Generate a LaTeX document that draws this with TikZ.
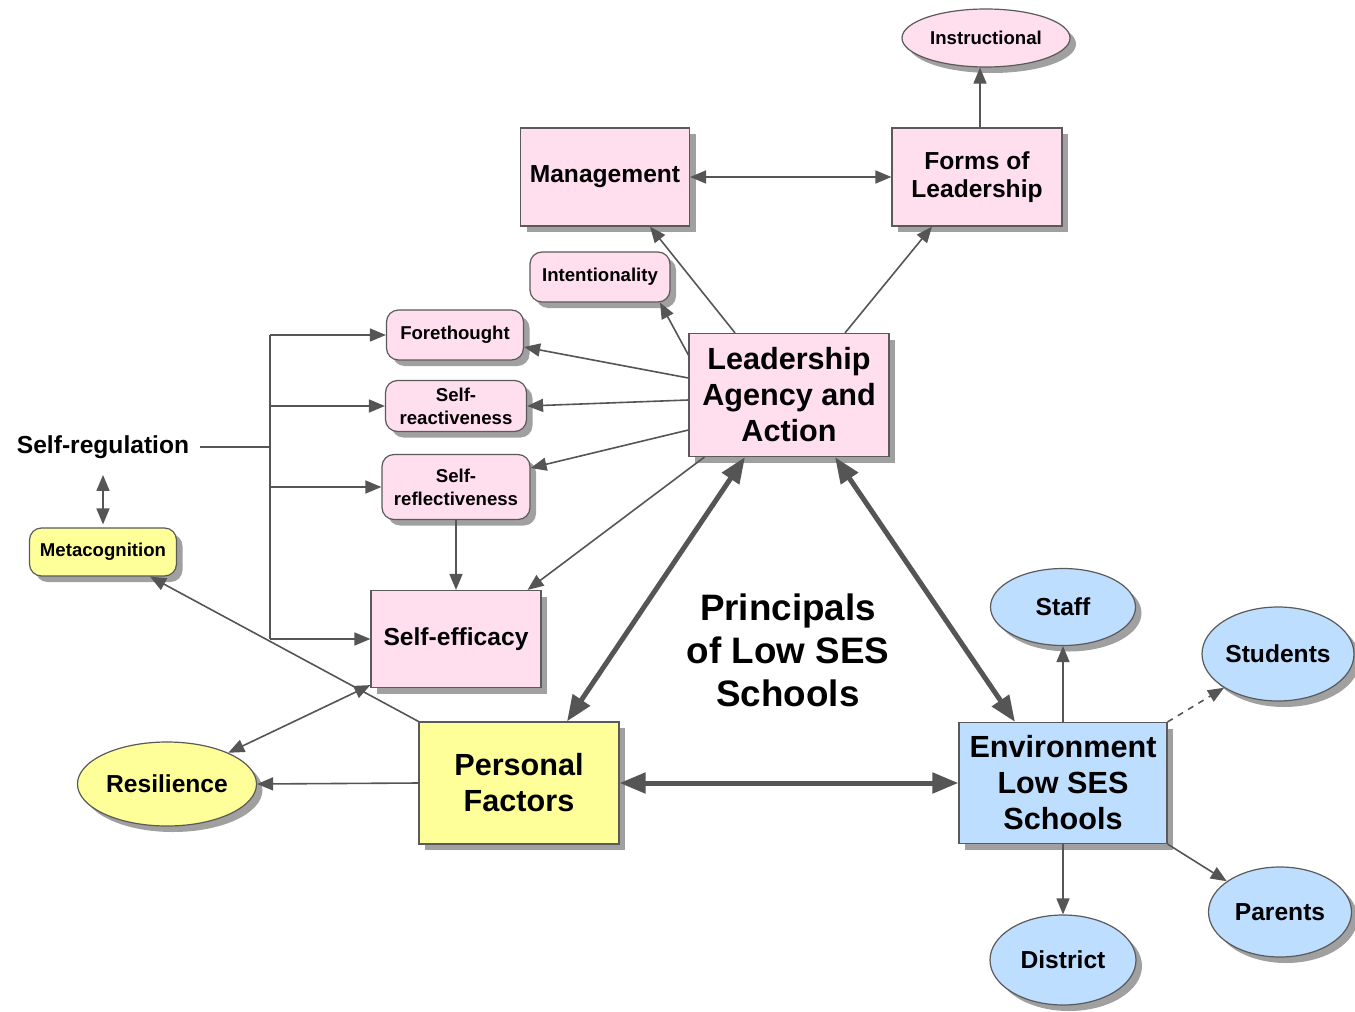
\documentclass[tikz,border=0pt]{standalone}
\usepackage{fontspec}
\setmainfont{Liberation Sans}
\usetikzlibrary{shapes.geometric,arrows.meta,shadows,calc}
\definecolor{pinkf}{RGB}{255,222,238}
\definecolor{yellowf}{RGB}{255,255,153}
\definecolor{bluef}{RGB}{190,222,255}
\definecolor{edgec}{RGB}{85,85,85}
\definecolor{bordc}{RGB}{90,90,90}
\definecolor{shadowc}{RGB}{160,160,160}
\tikzset{
  box/.style={draw=bordc, line width=0.6pt, align=center, inner sep=0pt,
    drop shadow={shadow xshift=3pt, shadow yshift=-3pt, fill=shadowc, opacity=1}},
  rbox/.style={box, rounded corners=6pt},
  oval/.style={box, ellipse},
  fs/.style={font=\bfseries\fontsize{9.3}{11.5}\selectfont},
  fm/.style={font=\bfseries\fontsize{12.3}{14}\selectfont},
  fl/.style={font=\bfseries\fontsize{15.3}{18}\selectfont},
  fx/.style={font=\bfseries\fontsize{18.4}{21.5}\selectfont},
  thin/.style={draw=edgec, line width=0.8pt, -{Triangle[length=8pt,width=6.5pt]}},
  thinboth/.style={draw=edgec, line width=0.8pt, {Triangle[length=8pt,width=6.5pt]}-{Triangle[length=8pt,width=6.5pt]}},
  thick/.style={draw=edgec, line width=2.5pt, {Triangle[length=13pt,width=10pt]}-{Triangle[length=13pt,width=10pt]}},
}
\begin{document}
\begin{tikzpicture}[x=0.5pt,y=-0.5pt]
\useasboundingbox[fill=white] (0,0) rectangle (1355,1012);
% nodes
\node[oval, fill=pinkf, fs, minimum width=84pt, minimum height=29pt] (instr) at (986,38) {Instructional};
\node[box, fill=pinkf, fm, minimum width=84.5pt, minimum height=49pt] (mgmt) at (605,177) {Management};
\node[box, fill=pinkf, fm, minimum width=85pt, minimum height=49pt] (forms) at (977,177) {Forms of\\Leadership};
\node[rbox, fill=pinkf, fs, minimum width=70pt, minimum height=25pt] (intent) at (600,277) {Intentionality};
\node[rbox, fill=pinkf, fs, minimum width=68.5pt, minimum height=25pt] (fore) at (455,335) {Forethought};
\node[rbox, fill=pinkf, fs, minimum width=70.5pt, minimum height=25.5pt] (react) at (456,406) {Self-\\reactiveness};
\node[rbox, fill=pinkf, fs, minimum width=74pt, minimum height=32.5pt] (reflect) at (456,487) {Self-\\reflectiveness};
\node[box, fill=pinkf, fm, minimum width=85pt, minimum height=48.5pt] (eff) at (456,639) {Self-efficacy};
\node[box, fill=pinkf, fl, minimum width=100pt, minimum height=61.5pt] (lead) at (789,395) {Leadership\\Agency and\\Action};
\node[fm, inner sep=2pt] (sr) at (103,447) {Self-regulation};
\node[rbox, fill=yellowf, fs, minimum width=73.5pt, minimum height=24pt] (meta) at (103,552) {Metacognition};
\node[oval, fill=yellowf, fm, minimum width=89.5pt, minimum height=42pt] (res) at (167,784) {Resilience};
\node[box, fill=yellowf, fl, minimum width=100pt, minimum height=61pt] (pf) at (519,783) {Personal\\Factors};
\node[fx, align=center] (princ) at (788,650) {Principals\\of Low SES\\Schools};
\node[box, fill=bluef, fl, minimum width=104pt, minimum height=60.5pt] (env) at (1063,783) {Environment\\Low SES\\Schools};
\node[oval, fill=bluef, fm, minimum width=72.5pt, minimum height=38.5pt] (staff) at (1063,607) {Staff};
\node[oval, fill=bluef, fm, minimum width=76pt, minimum height=47pt] (stud) at (1278,654) {Students};
\node[oval, fill=bluef, fm, minimum width=71.5pt, minimum height=45pt] (par) at (1280,912) {Parents};
\node[oval, fill=bluef, fm, minimum width=73pt, minimum height=45pt] (dist) at (1063,960) {District};
\coordinate (jn) at (270,449);
% connectors
\draw[thinboth] (mgmt.east) -- (forms.west);
\draw[thin] ([xshift=1.5pt]forms.north) -- ([xshift=1.5pt]forms.north |- instr.south);
\draw[thin] ([xshift=-27pt]lead.north) -- ([xshift=22.5pt]mgmt.south);
\draw[thin] ([xshift=28pt]lead.north) -- ([xshift=-22.5pt]forms.south);
\draw[thin] ([yshift=20pt]lead.west) -- ([xshift=30pt]intent.south);
\draw[thin] ([yshift=8.5pt]lead.west) -- ([yshift=-6pt]fore.east);
\draw[thin] ([yshift=-2.5pt]lead.west) -- (react.east);
\draw[thin] ([yshift=-17.5pt]lead.west) -- ([yshift=9.5pt]reflect.east);
\draw[thin] ([xshift=8pt]lead.south west) -- ([xshift=-7pt]eff.north east);
\draw[thin] (reflect.south) -- (eff.north);
\draw[draw=edgec, line width=0.8pt] ([xshift=3pt]sr.east) -- (jn |- sr.east);
\draw[draw=edgec, line width=0.8pt] (jn |- fore.west) -- (jn |- eff.west);
\draw[thin] (jn |- fore.west) -- (fore.west);
\draw[thin] (jn |- react.west) -- (react.west);
\draw[thin] (jn |- reflect.west) -- (reflect.west);
\draw[thin] (jn |- eff.west) -- (eff.west);
\draw[thinboth, shorten <=6pt, shorten >=1.5pt] (sr.south) -- (meta.north);
\draw[thin] (pf.north west) -- ([xshift=23.5pt]meta.south);
\draw[thinboth] (res.27) -- ([yshift=1.5pt]eff.south west);
\draw[thin] (pf.west) -- (res.east);
\draw[thick] (pf.east) -- (env.west);
\draw[thick] ([xshift=24pt]pf.north) -- ([xshift=-22pt]lead.south);
\draw[thick] ([xshift=23pt]lead.south) -- ([xshift=-24pt]env.north);
\draw[thin] (env.north) -- (staff.south);
\draw[thin] (env.south) -- (dist.north);
\draw[thin, dashed] (env.north east) -- (stud.212);
\draw[thin] (env.south east) -- (par.150);
\end{tikzpicture}
\end{document}
